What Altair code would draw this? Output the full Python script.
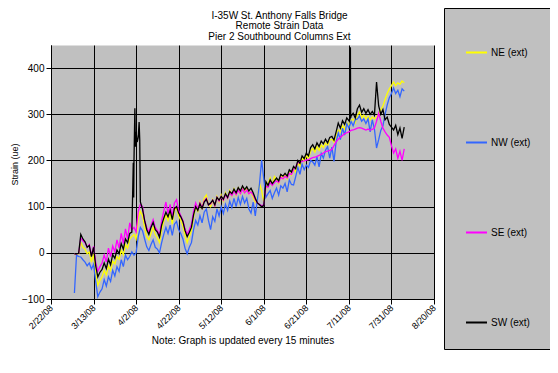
import altair as alt
import pandas as pd

# ---------------- data ----------------
series_names = ["NE (ext)", "NW (ext)", "SE (ext)", "SW (ext)"]
series_colors = ["#FFFF00", "#3366FF", "#FF00FF", "#000000"]

start_date = "2008-03-04"
end_date = "2008-08-06"

# daily readings, 3/4/08 .. 8/6/08 (Mar 28, Apr 30, May 31, Jun 30, Jul 31, Aug 6)
ne_values = [
    -2, -3, -2, 22, 12, 8, -2, 2, -20, -2, -45, -70, -60, -52, -38, -48, -28, -38, -18, -24, -8, -14, 6, -4, 18, 10, 30, 35,
    40, 30, 75, 90, 80, 55, 35, 28, 42, 55, 40, 32, 22, 50, 68, 82, 70, 88, 62, 92, 98, 80, 70, 58, 38, 22, 35, 48, 78, 100,
    90, 110, 95, 118, 125, 105, 100, 115, 100, 122, 110, 125, 112, 130, 118, 135, 124, 138, 125, 140, 128, 142, 130, 140, 128, 132, 120, 110, 118, 150, 135,
    110, 140, 150, 162, 145, 165, 158, 150, 168, 160, 170, 160, 176, 168, 182, 175, 196, 188, 205, 198, 210, 205, 220, 226, 218, 230, 222, 234, 228, 238,
    232, 244, 246, 240, 255, 266, 262, 275, 268, 282, 276, 286, 290, 282, 298, 305, 292, 298, 290, 296, 288, 294, 290, 295, 300, 310, 318, 332, 345, 355, 362,
    370, 362, 368, 365, 372, 368,
]
nw_values = [
    -87, -5, -8, -9, -15, -20, -28, -22, -35, -25, -62, -95, -85, -78, -58, -72, -52, -62, -38, -50, -30, -40, -15, -30, -5, -15, -8, 2,
    -5, 0, 35, 55, 48, 30, 13, 5, 18, 28, 12, 8, 0, 22, 40, 55, 42, 60, 38, 62, 68, 50, 42, 30, 10, -2, 12, 22, 50, 70,
    60, 80, 65, 88, 95, 70, 50, 78, 68, 95, 80, 100, 85, 105, 92, 112, 98, 118, 100, 120, 105, 122, 108, 118, 95, 86, 110, 80, 115, 150, 201,
    160, 120, 128, 135, 118, 130, 140, 125, 145, 140, 150, 132, 158, 148, 147, 165, 185, 170, 192, 180, 190, 185, 200, 197, 190, 208, 186, 215, 205, 222,
    230, 205, 229, 198, 240, 260, 245, 270, 255, 280, 270, 285, 275, 288, 290, 296, 285, 290, 280, 290, 262, 288, 268, 227, 245, 265, 275, 300, 320, 336, 345,
    357, 345, 352, 338, 355, 350,
]
se_values = [
    -2, -2, -1, 32, 26, 22, 12, 18, -6, 14, -20, -40, -30, -22, -5, -20, 10, -8, 15, 2, 28, 10, 42, 20, 52, 30, 65, 50,
    55, 45, 90, 105, 100, 70, 55, 45, 60, 72, 55, 48, 38, 70, 90, 110, 85, 105, 78, 108, 115, 92, 80, 70, 52, 40, 50, 62, 90, 108,
    95, 108, 98, 112, 118, 104, 106, 114, 102, 120, 112, 122, 114, 126, 118, 130, 124, 134, 126, 136, 128, 138, 130, 136, 128, 132, 125, 115, 108, 105, 102,
    104, 145, 142, 152, 146, 152, 156, 152, 164, 160, 166, 162, 172, 170, 180, 186, 195, 196, 198, 199, 201, 202, 204, 206, 207, 209, 211, 213, 216, 219,
    220, 222, 224, 232, 240, 246, 250, 254, 258, 260, 262, 265, 266, 268, 270, 271, 270, 268, 266, 268, 266, 267, 270, 285, 302, 285, 270, 262, 255, 250, 232,
    216, 225, 205, 220, 200, 225,
]
sw_values = [
    -2, -2, -1, 40, 30, 24, 12, 16, -8, 12, -28, -52, -42, -36, -22, -34, -14, -26, -4, -12, 6, -2, 20, 8, 30, 22, 42, 45,
    200, 262, 250, 110, 95, 70, 50, 40, 55, 66, 50, 45, 34, 60, 75, 88, 78, 92, 72, 96, 100, 86, 78, 68, 48, 35, 44, 55, 82, 100,
    92, 106, 96, 110, 116, 104, 108, 114, 104, 120, 114, 122, 116, 128, 120, 133, 128, 138, 130, 141, 134, 145, 137, 143, 134, 140, 130, 118, 108, 104, 100,
    102, 154, 146, 158, 150, 156, 162, 156, 170, 166, 172, 166, 180, 175, 187, 182, 200, 194, 210, 204, 216, 210, 228, 234, 225, 238, 230, 242, 236, 246,
    238, 250, 252, 244, 262, 281, 270, 286, 278, 292, 286, 296, 302, 292, 312, 320, 304, 312, 302, 310, 300, 306, 298, 370, 318, 300, 310, 288, 294, 278, 272,
    266, 276, 256, 270, 248, 272,
]

# extra intra-day SW readings (spikes)
sw_extra_times = ["2008-03-31 16:00", "2008-03-31 21:00", "2008-04-01 10:00", "2008-04-01 16:00",
                  "2008-04-02 12:00", "2008-04-03 10:00", "2008-04-03 17:00",
                  "2008-07-11 14:00", "2008-07-11 17:00", "2008-07-11 20:00"]
sw_extra_values = [195, 120, 313, 230, 240, 283, 245, 290, 445, 292]

x_tick_dates = ["2008-02-22", "2008-03-13", "2008-04-02", "2008-04-22", "2008-05-12",
                "2008-06-01", "2008-06-21", "2008-07-11", "2008-07-31", "2008-08-20"]
y_ticks = [-100, 0, 100, 200, 300, 400]
y_domain = [-100, 450]

title_lines = ["I-35W St. Anthony Falls Bridge", "Remote Strain Data", "Pier 2 Southbound Columns Ext"]
y_title = "Strain (ue)"
x_title = "Note: Graph is updated every 15 minutes"

# ---------------- build table ----------------
dates = pd.date_range(start_date, end_date, freq="D")
frames = []
for name, vals in zip(series_names, [ne_values, nw_values, se_values, sw_values]):
    frames.append(pd.DataFrame({"time": dates, "strain": vals, "series": name}))
frames.append(pd.DataFrame({"time": pd.to_datetime(sw_extra_times),
                            "strain": sw_extra_values, "series": "SW (ext)"}))
df = pd.concat(frames, ignore_index=True).sort_values(["series", "time"]).reset_index(drop=True)


def dt(s):
    t = pd.Timestamp(s)
    return alt.DateTime(year=t.year, month=t.month, date=t.day)


FONT = "Liberation Sans"

x_enc = alt.X(
    "time:T",
    scale=alt.Scale(domain=[dt(x_tick_dates[0]), dt(x_tick_dates[-1])]),
    axis=alt.Axis(
        values=[dt(s) for s in x_tick_dates],
        format="%-m/%-d/%y",
        labelAngle=315,
        labelAlign="right",
        labelBaseline="middle",
        labelFontSize=9,
        labelPadding=2,
        tickSize=5,
        title=x_title,
        titleFontSize=10,
        titleFontWeight="normal",
        titlePadding=5,
    ),
)
y_enc = alt.Y(
    "strain:Q",
    scale=alt.Scale(domain=y_domain, nice=False, zero=False),
    axis=alt.Axis(
        values=y_ticks,
        labelFontSize=10,
        labelPadding=2,
        tickSize=5,
        title=y_title,
        titleFontSize=9,
        titleFontWeight="normal",
        titleX=-37,
        titleY=119,
        titleBaseline="middle",
    ),
)
color_enc = alt.Color(
    "series:N",
    scale=alt.Scale(domain=series_names, range=series_colors),
    title=" ",
    legend=alt.Legend(
        orient="none",
        legendX=393,
        legendY=-37,
        direction="vertical",
        fillColor="#C0C0C0",
        strokeColor="#000000",
        padding=21,
        symbolType="stroke",
        symbolSize=441,
        symbolStrokeWidth=2,
        labelFontSize=10,
        labelFont=FONT,
        labelOffset=3,
        rowPadding=73,
        titleFontSize=10,
        titlePadding=2,
    ),
)

base = alt.Chart(df).encode(x=x_enc, y=y_enc, color=color_enc)
layers = [
    base.transform_filter(alt.datum.series == name).mark_line(strokeWidth=1.3, clip=True)
    for name in series_names
]

chart = alt.layer(*layers).properties(
    width=383,
    height=254,
    autosize=alt.AutoSizeParams(type="none"),
    padding={"left": 43, "top": 37, "right": 116, "bottom": 66},
    title=alt.TitleParams(
        text=title_lines,
        fontSize=10,
        font=FONT,
        fontWeight="normal",
        color="#000000",
        anchor="middle",
        dx=37,
        dy=39,
        offset=5,
        lineHeight=10.5,
    ),
    background="#FFFFFF",
).configure_axis(
    labelFont=FONT,
    titleFont=FONT,
    labelColor="#000000",
    titleColor="#000000",
    domainColor="#000000",
    tickColor="#000000",
    gridColor="#000000",
    gridWidth=1,
    grid=True,
).configure_view(
    fill="#C0C0C0",
    stroke="transparent",
)

chart.save("out.html", embed_options={"renderer": "svg", "actions": False})
